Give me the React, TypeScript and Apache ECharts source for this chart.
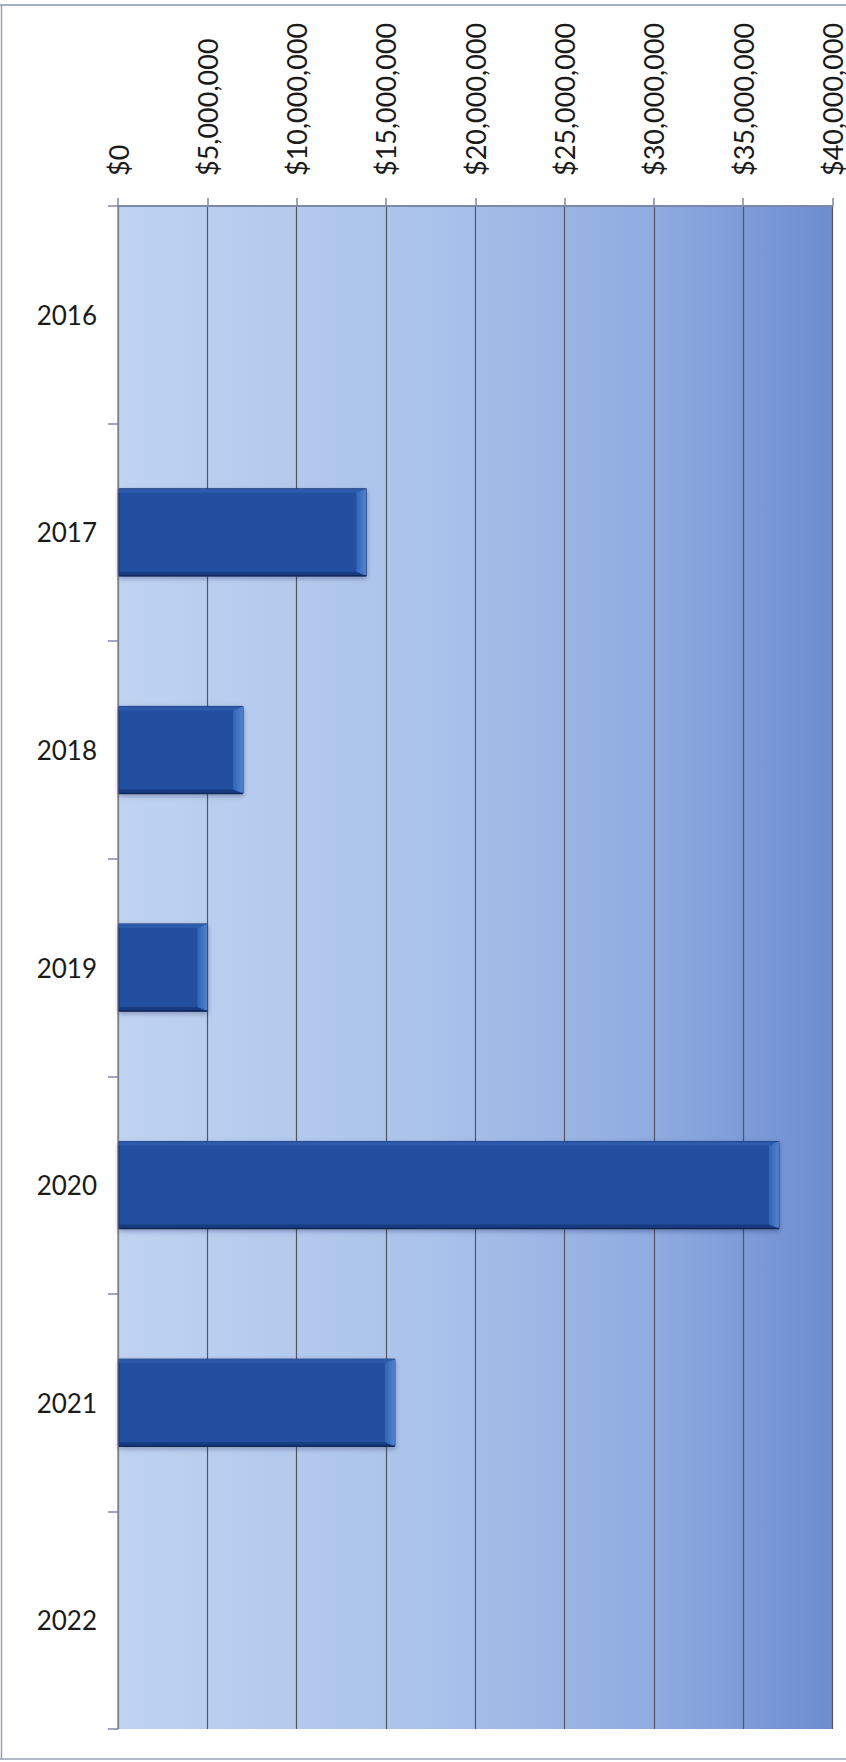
import React, { useEffect, useRef } from "react";
import * as echarts from "echarts";

// Yearly amounts in US dollars
const years = ["2016", "2017", "2018", "2019", "2020", "2021", "2022"];
const amounts = [0, 13900000, 7000000, 5000000, 37000000, 15500000, 0];

// Value axis range and step
const axisMin = 0;
const axisMax = 40000000;
const axisStep = 5000000;

const FONT = "Lato, 'Open Sans', sans-serif";

const formatDollars = (v: number) => "$" + Math.round(v).toLocaleString("en-US");

// Bevelled horizontal bar: base rectangle plus light right edge and dark bottom edge
function renderBar(params: any, api: any) {
  const value = api.value(0);
  const idx = api.value(1);
  if (!value) return null;
  const start = api.coord([0, idx]);
  const end = api.coord([value, idx]);
  const band = api.size([0, 1])[1];
  const h = band * 0.4;
  const x0 = start[0] + 1;
  const x1 = end[0];
  const y0 = start[1] - h / 2;
  const y1 = start[1] + h / 2;
  const bv = 10; // right bevel width
  const bt = 4; // top bevel
  const bb = 4; // bottom bevel
  return {
    type: "group",
    children: [
      {
        type: "rect",
        shape: { x: x0, y: y0, width: x1 - x0, height: h },
        style: {
          fill: "#24509f",
          stroke: "#1a3472",
          lineWidth: 1,
          shadowBlur: 5,
          shadowOffsetY: 2,
          shadowColor: "rgba(20,30,70,0.35)",
        },
      },
      {
        type: "polygon",
        shape: {
          points: [
            [x0, y0],
            [x1, y0],
            [x1 - bv, y0 + bt],
            [x0, y0 + bt],
          ],
        },
        style: { fill: "#2d5aab" },
      },
      {
        type: "polygon",
        shape: {
          points: [
            [x0, y1],
            [x1, y1],
            [x1 - bv, y1 - bb],
            [x0, y1 - bb],
          ],
        },
        style: { fill: "#173a80" },
      },
      {
        type: "polygon",
        shape: {
          points: [
            [x1, y0],
            [x1, y1],
            [x1 - bv, y1 - bb],
            [x1 - bv, y0 + bt],
          ],
        },
        style: {
          fill: new echarts.graphic.LinearGradient(0, 0, 1, 0, [
            { offset: 0, color: "#3064b6" },
            { offset: 1, color: "#5283cc" },
          ]),
        },
      },
      {
        type: "line",
        shape: { x1: x0, y1: y1, x2: x1, y2: y1 },
        style: { stroke: "#12285a", lineWidth: 1.5 },
      },
    ],
  };
}

export default function App() {
  const ref = useRef<HTMLDivElement>(null);

  useEffect(() => {
    if (!ref.current) return;
    const chart = echarts.init(ref.current, null, { renderer: "svg" });
    chart.setOption({
      animation: false,
      backgroundColor: "#ffffff",
      grid: {
        left: 118,
        right: 8,
        top: 206,
        bottom: 33,
        show: true,
        borderWidth: 0,
        backgroundColor: {
          type: "linear",
          x: 0,
          y: 0,
          x2: 1,
          y2: 0,
          colorStops: [
            { offset: 0, color: "#c0d3f1" },
            { offset: 0.45, color: "#a9c2ea" },
            { offset: 0.75, color: "#8fabe0" },
            { offset: 1, color: "#6d8dd0" },
          ],
        },
      },
      xAxis: {
        type: "value",
        position: "top",
        min: axisMin,
        max: axisMax,
        interval: axisStep,
        axisLine: { show: true, lineStyle: { color: "#7d88a8", width: 2 } },
        axisTick: { show: true, length: 8, lineStyle: { color: "#7d88a8", width: 1.5 } },
        splitLine: { show: true, lineStyle: { color: "#55565f", width: 1.2 } },
        axisLabel: {
          rotate: -90,
          margin: 30,
          color: "#1a1a1a",
          fontFamily: FONT,
          fontSize: 27,
          formatter: formatDollars,
        },
      },
      yAxis: {
        type: "category",
        inverse: true,
        data: years,
        axisLine: { show: true, lineStyle: { color: "#8a8e9c", width: 1.5 } },
        axisTick: { show: true, length: 10, lineStyle: { color: "#7d88a8", width: 1.5 } },
        axisLabel: {
          margin: 21,
          color: "#1a1a1a",
          fontFamily: FONT,
          fontSize: 26,
        },
      },
      series: [
        {
          type: "custom",
          renderItem: renderBar,
          encode: { x: 0, y: 1 },
          data: amounts.map((v, i) => [v, i]),
          clip: false,
        },
      ],
      graphic: [
        {
          type: "line",
          shape: { x1: 0, y1: 5, x2: 846, y2: 5 },
          style: { stroke: "#8b95b8", lineWidth: 1.5 },
        },
        {
          type: "line",
          shape: { x1: 1.5, y1: 5, x2: 1.5, y2: 1759 },
          style: { stroke: "#9aa0b4", lineWidth: 1.5 },
        },
        {
          type: "line",
          shape: { x1: 0, y1: 1759, x2: 846, y2: 1759 },
          style: { stroke: "#9a9fb6", lineWidth: 1.5 },
        },
      ],
    });
    return () => chart.dispose();
  }, []);

  return (
    <div
      ref={ref}
      style={{ position: "fixed", left: 0, top: 0, width: 846, height: 1762, background: "#ffffff" }}
    />
  );
}
